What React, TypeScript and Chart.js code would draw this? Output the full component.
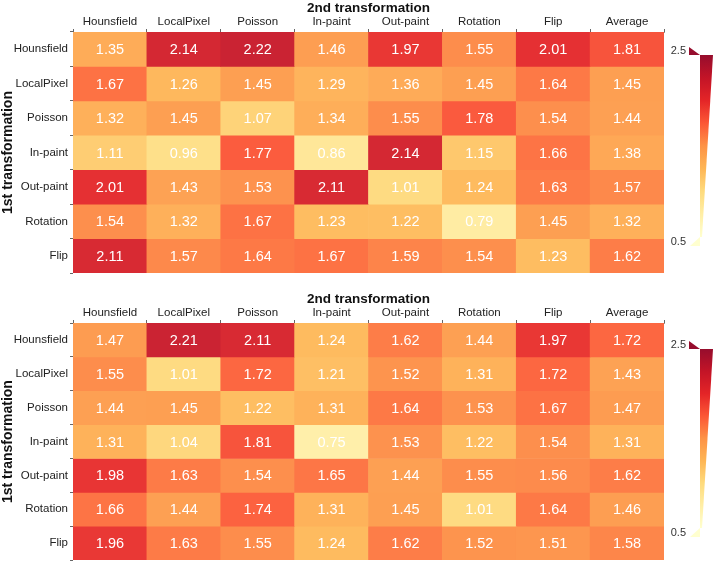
import React, { useEffect, useRef } from "react";
import { Chart, registerables } from "chart.js";

Chart.register(...registerables);

const FONT = '"Liberation Sans", Arial, Helvetica, sans-serif';

const COLS = ["Hounsfield", "LocalPixel", "Poisson", "In-paint", "Out-paint", "Rotation", "Flip", "Average"];
const ROWS = ["Hounsfield", "LocalPixel", "Poisson", "In-paint", "Out-paint", "Rotation", "Flip"];

const TOP_HOUNSFIELD = [1.35, 2.14, 2.22, 1.46, 1.97, 1.55, 2.01, 1.81];
const TOP_LOCALPIXEL = [1.67, 1.26, 1.45, 1.29, 1.36, 1.45, 1.64, 1.45];
const TOP_POISSON = [1.32, 1.45, 1.07, 1.34, 1.55, 1.78, 1.54, 1.44];
const TOP_INPAINT = [1.11, 0.96, 1.77, 0.86, 2.14, 1.15, 1.66, 1.38];
const TOP_OUTPAINT = [2.01, 1.43, 1.53, 2.11, 1.01, 1.24, 1.63, 1.57];
const TOP_ROTATION = [1.54, 1.32, 1.67, 1.23, 1.22, 0.79, 1.45, 1.32];
const TOP_FLIP = [2.11, 1.57, 1.64, 1.67, 1.59, 1.54, 1.23, 1.62];

const BOT_HOUNSFIELD = [1.47, 2.21, 2.11, 1.24, 1.62, 1.44, 1.97, 1.72];
const BOT_LOCALPIXEL = [1.55, 1.01, 1.72, 1.21, 1.52, 1.31, 1.72, 1.43];
const BOT_POISSON = [1.44, 1.45, 1.22, 1.31, 1.64, 1.53, 1.67, 1.47];
const BOT_INPAINT = [1.31, 1.04, 1.81, 0.75, 1.53, 1.22, 1.54, 1.31];
const BOT_OUTPAINT = [1.98, 1.63, 1.54, 1.65, 1.44, 1.55, 1.56, 1.62];
const BOT_ROTATION = [1.66, 1.44, 1.74, 1.31, 1.45, 1.01, 1.64, 1.46];
const BOT_FLIP = [1.96, 1.63, 1.55, 1.24, 1.62, 1.52, 1.51, 1.58];

const TOP_VALUES = [TOP_HOUNSFIELD, TOP_LOCALPIXEL, TOP_POISSON, TOP_INPAINT, TOP_OUTPAINT, TOP_ROTATION, TOP_FLIP];
const BOT_VALUES = [BOT_HOUNSFIELD, BOT_LOCALPIXEL, BOT_POISSON, BOT_INPAINT, BOT_OUTPAINT, BOT_ROTATION, BOT_FLIP];

const CMIN = 0.5;
const CMAX = 2.5;
const CBAR_LABELS = ["2.5", "0.5"];

const X_TITLE = "2nd transformation";
const Y_TITLE = "1st transformation";

const YLORRD = ["#ffffcc", "#ffeda0", "#fed976", "#feb24c", "#fd8d3c", "#fc4e2a", "#e31a1c", "#c0081c", "#900022"];
const CELL_ALPHA = 0.9;

function hexToRgb(h: string) {
  const n = parseInt(h.slice(1), 16);
  return [(n >> 16) & 255, (n >> 8) & 255, n & 255];
}

function colorFor(v: number, alpha = CELL_ALPHA) {
  let t = (v - CMIN) / (CMAX - CMIN);
  t = Math.max(0, Math.min(1, t));
  const pos = t * (YLORRD.length - 1);
  const i = Math.min(Math.floor(pos), YLORRD.length - 2);
  const f = pos - i;
  const a = hexToRgb(YLORRD[i]);
  const b = hexToRgb(YLORRD[i + 1]);
  const c = a.map((av, k) => av + (b[k] - av) * f);
  const r = c.map((cv) => Math.round(cv * alpha + 255 * (1 - alpha)));
  return `rgb(${r[0]},${r[1]},${r[2]})`;
}

const cellLabels = {
  id: "cellLabels",
  afterDatasetsDraw(chart: any, _args: any, opts: any) {
    const ctx = chart.ctx;
    ctx.save();
    ctx.font = `14.5px ${FONT}`;
    ctx.fillStyle = "#ffffff";
    ctx.textAlign = "center";
    ctx.textBaseline = "middle";
    chart.data.datasets.forEach((_ds: any, di: number) => {
      const meta = chart.getDatasetMeta(di);
      meta.data.forEach((el: any, i: number) => {
        const p = el.getCenterPoint();
        ctx.fillText(opts.values[di][i].toFixed(2), p.x, p.y + 1);
      });
    });
    ctx.restore();
  },
};

const colorbar = {
  id: "colorbar",
  afterDraw(chart: any, _args: any, opts: any) {
    const ctx = chart.ctx;
    const { top, bottom, right } = chart.chartArea;
    const barTop = top + opts.topOffset;
    const barBot = bottom - opts.bottomOffset;
    const x0 = right + 36;
    ctx.save();
    const grad = ctx.createLinearGradient(0, barTop, 0, barBot);
    for (let i = 0; i < YLORRD.length; i++) {
      const v = CMAX - (i / (YLORRD.length - 1)) * (CMAX - CMIN);
      grad.addColorStop(i / (YLORRD.length - 1), colorFor(v, 0.95));
    }
    ctx.fillStyle = grad;
    ctx.beginPath();
    ctx.moveTo(x0, barTop);
    ctx.lineTo(x0 + 13, barTop);
    ctx.lineTo(x0 + 2, barBot);
    ctx.lineTo(x0, barBot);
    ctx.closePath();
    ctx.fill();

    ctx.fillStyle = colorFor(CMAX, 0.95);
    ctx.beginPath();
    ctx.moveTo(x0 - 11, barTop - 8);
    ctx.lineTo(x0 - 11, barTop);
    ctx.lineTo(x0, barTop);
    ctx.closePath();
    ctx.fill();

    ctx.fillStyle = colorFor(CMIN, 0.95);
    ctx.beginPath();
    ctx.moveTo(x0 - 10, barBot + 9);
    ctx.lineTo(x0, barBot);
    ctx.lineTo(x0, barBot + 9);
    ctx.closePath();
    ctx.fill();

    ctx.font = `11px ${FONT}`;
    ctx.fillStyle = "#333333";
    ctx.textAlign = "right";
    ctx.textBaseline = "middle";
    ctx.fillText(CBAR_LABELS[0], x0 - 14, barTop - 4);
    ctx.fillText(CBAR_LABELS[1], x0 - 14, barBot + 5);
    ctx.restore();
  },
};

function makeConfig(values: number[][], bottomPad: number, cbTop: number, cbBottom: number): any {
  const datasets = ROWS.map((r, ri) => ({
    label: r,
    data: COLS.map(() => [ri, ri + 1]),
    backgroundColor: values[ri].map((v) => colorFor(v)),
    borderWidth: 0,
    barPercentage: 1,
    categoryPercentage: 1,
    grouped: false,
  }));
  return {
    type: "bar",
    data: { labels: COLS, datasets },
    plugins: [cellLabels, colorbar],
    options: {
      animation: false,
      responsive: false,
      devicePixelRatio: 1,
      layout: { padding: { left: 0, top: 0, right: 50, bottom: bottomPad } },
      plugins: {
        legend: { display: false },
        tooltip: { enabled: false },
        cellLabels: { values },
        colorbar: { topOffset: cbTop, bottomOffset: cbBottom },
      },
      scales: {
        x: {
          type: "category",
          position: "top",
          offset: true,
          grid: { offset: true, drawOnChartArea: false, drawTicks: true, tickLength: 3, color: "#666666", lineWidth: 1 },
          border: { display: true, color: "#999999", width: 1 },
          ticks: { font: { family: FONT, size: 11.5 }, color: "#222222", padding: 0, maxRotation: 0, autoSkip: false },
          title: {
            display: true,
            text: X_TITLE,
            color: "#111111",
            font: { family: FONT, size: 13.5, weight: "bold", lineHeight: 1 },
            padding: { top: 2, bottom: 0 },
          },
          afterFit: (s: any) => {
            s.height = 32;
          },
        },
        y: {
          type: "linear",
          min: 0,
          max: ROWS.length,
          reverse: true,
          afterBuildTicks: (s: any) => {
            s.ticks = ROWS.map((_r, i) => ({ value: i + 0.5 }));
          },
          grid: { offset: true, drawOnChartArea: false, drawTicks: true, tickLength: 3, color: "#666666", lineWidth: 1 },
          border: { display: false },
          ticks: {
            font: { family: FONT, size: 11.5 },
            color: "#222222",
            padding: 2,
            callback: (v: number) => ROWS[Math.floor(v)],
          },
          title: {
            display: true,
            text: Y_TITLE,
            color: "#111111",
            font: { family: FONT, size: 14, weight: "bold", lineHeight: 1 },
            padding: { top: 1.5, bottom: 0 },
          },
          afterFit: (s: any) => {
            s.width = 73;
          },
        },
      },
    },
  };
}

function Heatmap({ values, height, bottomPad, cbTop, cbBottom }: any) {
  const ref = useRef<HTMLCanvasElement | null>(null);
  useEffect(() => {
    if (!ref.current) return;
    const chart = new Chart(ref.current, makeConfig(values, bottomPad, cbTop, cbBottom));
    return () => chart.destroy();
  }, []);
  return <canvas ref={ref} width={714} height={height} style={{ display: "block", width: 714, height }} />;
}

export default function App() {
  return (
    <div style={{ position: "absolute", left: 0, top: 0, width: 714, height: 569, background: "#fff" }}>
      <Heatmap values={TOP_VALUES} height={291} bottomPad={18} cbTop={23} cbBottom={36} />
      <Heatmap values={BOT_VALUES} height={278} bottomPad={5} cbTop={26} cbBottom={32} />
    </div>
  );
}
